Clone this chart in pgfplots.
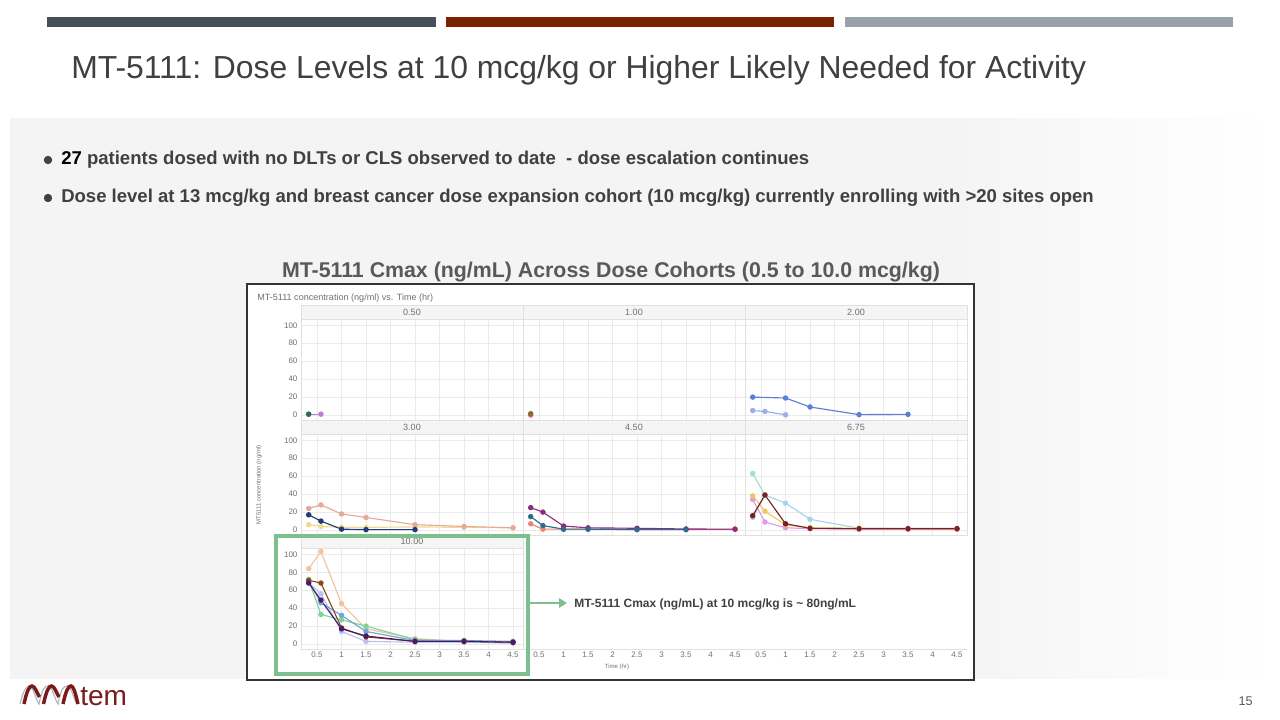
\documentclass[border=0pt]{standalone}
\usepackage{fontspec}
\setmainfont{Liberation Sans}
\usepackage{pgfplots}
\pgfplotsset{compat=1.18}
\usetikzlibrary{arrows.meta}

\definecolor{bgc}{HTML}{F4F4F4}
\definecolor{barA}{HTML}{455058}
\definecolor{barB}{HTML}{7A2300}
\definecolor{barC}{HTML}{9AA0A8}
\definecolor{titc}{HTML}{404040}
\definecolor{subc}{HTML}{595959}
\definecolor{gridc}{HTML}{EBEBEB}
\definecolor{framec}{HTML}{E0E0E0}
\definecolor{stripc}{HTML}{F5F5F5}
\definecolor{tickc}{HTML}{707070}
\definecolor{boxc}{HTML}{7DC08E}
\definecolor{logoc}{HTML}{7B1A1A}
% series
\definecolor{cPeach}{HTML}{F2C39E}
\definecolor{cBrown}{HTML}{8B4A1C}
\definecolor{cGreen}{HTML}{7ED39B}
\definecolor{cBlue}{HTML}{6BA6D6}
\definecolor{cDPurp}{HTML}{4A1A6A}
\definecolor{cLav}{HTML}{B9C3F0}
\definecolor{cPurp}{HTML}{B77FD6}
\definecolor{cDGreen}{HTML}{2E6B4F}
\definecolor{cPink}{HTML}{E070A0}
\definecolor{cOlive}{HTML}{8B6B2F}
\definecolor{cRoyal}{HTML}{5B7FD6}
\definecolor{cLBlue}{HTML}{9AAEE8}
\definecolor{cSalmon}{HTML}{E8A898}
\definecolor{cYellow}{HTML}{F2DA8C}
\definecolor{cNavy}{HTML}{1F3B73}
\definecolor{cMag}{HTML}{8E2C7E}
\definecolor{cTeal}{HTML}{2E6B8F}
\definecolor{cCoral}{HTML}{E88870}
\definecolor{cRose}{HTML}{D9507A}
\definecolor{cMint}{HTML}{9FE3C2}
\definecolor{cSky}{HTML}{A6D4EC}
\definecolor{cGold}{HTML}{EBC95E}
\definecolor{cViolet}{HTML}{E39AE3}
\definecolor{cMaroon}{HTML}{7A2020}

\pgfplotsset{
  panel/.style={
    scale only axis, anchor=north west,
    width=166.5pt, height=75.75pt,
    xmin=0.173, xmax=4.704, ymin=-5.5, ymax=107,
    xtick={0.5,1,1.5,2,2.5,3,3.5,4,4.5},
    ytick={0,20,40,60,80,100},
    grid=major, major grid style={draw=gridc, line width=0.5pt},
    axis line style={draw=framec, line width=0.5pt},
    major tick length=0pt,
    xticklabels={}, yticklabels={},
    tick label style={font=\fontsize{6}{7}\selectfont, text=tickc},
    /pgf/number format/assume math mode=true,
    every axis plot/.append style={line width=0.85pt, mark=*, mark size=1.6pt},
  },
  ylab/.style={yticklabels={0,20,40,60,80,100}, yticklabel style={inner sep=1pt, xshift=-1.5pt}},
  xlab/.style={xticklabels={0.5,1,1.5,2,2.5,3,3.5,4,4.5}, xticklabel style={inner sep=1pt, yshift=-1pt}},
}

\begin{document}
\begin{tikzpicture}
\begin{scope}[x=0.75pt,y=-0.75pt]
  \path[use as bounding box] (0,0) rectangle (1280,720);
  \fill[white] (0,0) rectangle (1280,720);
  \fill[bgc] (10,118) rectangle (950,679);
  % fade of the grey panel towards the right edge
  \foreach \i in {0,...,31}{
    \pgfmathsetmacro{\pc}{100-\i*3.2}
    \fill[bgc!\pc!white] ({949+\i*10},118) rectangle ({960+\i*10},679);
  }
  % top bars
  \fill[barA] (47,17) rectangle (436,27);
  \fill[barB] (446,17) rectangle (834,27);
  \fill[barC] (845,17) rectangle (1233,27);
  % title
  \node[anchor=base west, inner sep=0pt, text=titc, font=\fontsize{23.9}{28}\selectfont] at (71,79) {MT-5111: Dose Levels at 10 mcg/kg or Higher Likely Needed for Activity};
  % bullets
  \fill[titc] (48,160) circle (4.2);
  \fill[titc] (48,198) circle (4.2);
  \node[anchor=base west, inner sep=0pt, text=titc, font=\bfseries\fontsize{13.9}{16}\selectfont] at (61,165) {\textcolor{black}{27} patients dosed with no DLTs or CLS observed to date\ \ - dose escalation continues};
  \node[anchor=base west, inner sep=0pt, text=titc, font=\bfseries\fontsize{13.9}{16}\selectfont] at (61,203) {Dose level at 13 mcg/kg and breast cancer dose expansion cohort (10 mcg/kg) currently enrolling with >20 sites open};
  % chart title
  \node[anchor=base, inner sep=0pt, text=subc, font=\bfseries\fontsize{16}{19}\selectfont] at (611,277) {MT-5111 Cmax (ng/mL) Across Dose Cohorts (0.5 to 10.0 mcg/kg)};
  % chart frame
  \draw[fill=white, draw=black!80, line width=1pt] (247,284) rectangle (974,680);
  \node[anchor=base west, inner sep=0pt, text=tickc, font=\fontsize{6.8}{8}\selectfont] at (257,300) {MT-5111 concentration (ng/ml) vs. Time (hr)};
  % strips
  \foreach \cx/\ry/\lab in {301/305/0.50, 523/305/1.00, 745/305/2.00, 301/420/3.00, 523/420/4.50, 745/420/6.75, 301/534/10.00}{
    \draw[fill=stripc, draw=framec, line width=0.4pt] (\cx,\ry) rectangle ++(222,14);
    \node[text=tickc, font=\fontsize{6.8}{8}\selectfont, inner sep=0pt] at (\cx+111,\ry+7.5) {\lab};
  }
  \node[rotate=90, text=tickc, font=\fontsize{4.5}{5}\selectfont, inner sep=0pt] at (259,485) {MT5111 concentration (ng/ml)};
  \node[text=tickc, font=\fontsize{4.5}{5}\selectfont, inner sep=0pt] at (617,667) {Time (hr)};
\end{scope}

% ---- row 1 ----
\begin{axis}[panel, ylab, at={(225.75pt,-239.25pt)}]
  \addplot[color=cPurp] coordinates {(0.33,1) (0.58,1)};
  \addplot[color=cDGreen] coordinates {(0.33,1)};
\end{axis}
\begin{axis}[panel, at={(392.25pt,-239.25pt)}]
  \addplot[color=cPink] coordinates {(0.33,0)};
  \addplot[color=cOlive] coordinates {(0.33,1.5)};
\end{axis}
\begin{axis}[panel, at={(558.75pt,-239.25pt)}]
  \addplot[color=cLBlue] coordinates {(0.33,5) (0.58,4) (1,0.3)};
  \addplot[color=cRoyal] coordinates {(0.33,20) (1,19) (1.5,9) (2.5,0.5) (3.5,0.8)};
\end{axis}

% ---- row 2 ----
\begin{axis}[panel, ylab, at={(225.75pt,-325.5pt)}]
  \addplot[color=cYellow] coordinates {(0.33,6) (0.58,4) (1,3) (1.5,3) (2.5,3.5) (3.5,3) (4.5,2.5)};
  \addplot[color=cSalmon] coordinates {(0.33,24) (0.58,28) (1,18) (1.5,14) (2.5,6) (3.5,4) (4.5,2.5)};
  \addplot[color=cNavy] coordinates {(0.33,17) (0.58,10) (1,1) (1.5,0.5) (2.5,0.5)};
\end{axis}
\begin{axis}[panel, at={(392.25pt,-325.5pt)}]
  \addplot[color=cCoral] coordinates {(0.33,7) (0.58,1) (1,1) (1.5,1) (2.5,1)};
  \addplot[color=cRose] coordinates {(2.5,1) (3.5,1) (4.5,1)};
  \addplot[color=cMag] coordinates {(0.33,25) (0.58,20) (1,4.5) (1.5,2.5) (2.5,2) (3.5,1.2) (4.5,1)};
  \addplot[color=cTeal] coordinates {(0.33,15) (0.58,5) (1,1) (1.5,1) (2.5,0.5) (3.5,0.5)};
\end{axis}
\begin{axis}[panel, at={(558.75pt,-325.5pt)}]
  \addplot[color=cMint] coordinates {(0.33,63) (0.58,39)};
  \addplot[color=cSky] coordinates {(0.33,14) (0.58,39) (1,30) (1.5,12) (2.5,2) (3.5,2) (4.5,2)};
  \addplot[color=cViolet] coordinates {(0.33,34) (0.58,9) (1,2.6) (1.5,1.5) (2.5,1) (3.5,1) (4.5,1)};
  \addplot[color=cGold] coordinates {(0.33,38) (0.58,21) (1,6) (1.5,2.5) (2.5,2) (3.5,1.5) (4.5,1.5)};
  \addplot[color=cMaroon] coordinates {(0.33,16) (0.58,39) (1,7) (1.5,2) (2.5,1.5) (3.5,1.5) (4.5,1.5)};
\end{axis}

% ---- row 3 ----
\begin{axis}[panel, ylab, xlab, at={(225.75pt,-411pt)}]
  \addplot[color=cPeach] coordinates {(0.33,84) (0.58,103) (1,45) (1.5,17) (2.5,6) (3.5,3) (4.5,2)};
  \addplot[color=cGreen] coordinates {(0.33,72) (0.58,33) (1,27) (1.5,20) (2.5,5) (3.5,3) (4.5,2)};
  \addplot[color=cLav] coordinates {(0.33,68) (0.58,56) (1,14) (1.5,3) (2.5,2) (3.5,2) (4.5,1)};
  \addplot[color=cBlue] coordinates {(0.33,70) (0.58,46) (1,32) (1.5,14) (2.5,4) (3.5,4) (4.5,3)};
  \addplot[color=cBrown] coordinates {(0.33,71) (0.58,68) (1,18) (1.5,8) (2.5,3) (3.5,3) (4.5,2)};
  \addplot[color=cDPurp] coordinates {(0.33,68) (0.58,49) (1,17) (1.5,9) (2.5,3) (3.5,3) (4.5,2)};
\end{axis}
\begin{axis}[panel, xlab, at={(392.25pt,-411pt)}, grid=none, axis y line=none, axis x line*=bottom]
\end{axis}
\begin{axis}[panel, xlab, at={(558.75pt,-411pt)}, grid=none, axis y line=none, axis x line*=bottom]
\end{axis}

\begin{scope}[x=0.75pt,y=-0.75pt]
  \draw[boxc, line width=2.4pt] (276,536) rectangle (528,674);
  \draw[boxc, line width=1.6pt, -{Triangle[length=6pt,width=7pt]}] (528,603) -- (567,603);
  \node[anchor=base west, inner sep=0pt, text=titc, font=\bfseries\fontsize{9}{11}\selectfont] at (574,607) {MT-5111 Cmax (ng/mL) at 10 mcg/kg is \textasciitilde{} 80ng/mL};
  % page number
  \node[anchor=base east, inner sep=0pt, text=subc, font=\fontsize{9.5}{11}\selectfont] at (1253,705) {15};
  % logo
  \draw[gray!55, line width=0.9pt] (20,704) .. controls (24,688) and (27,686) .. (29.5,686) .. controls (33,686) and (36,700) .. (39,704)
     .. controls (42,688) and (45,686) .. (48.5,686) .. controls (52,686) and (55,700) .. (58,704)
     .. controls (61,688) and (64,686) .. (67.5,686) .. controls (71,686) and (74,700) .. (77,704);
  \draw[logoc, line width=2.6pt] (24,704) .. controls (27,690) and (29.5,686) .. (32,686) .. controls (35,686) and (37.5,694) .. (39.5,697)
     (43.5,704) .. controls (46.5,690) and (49,686) .. (51.5,686) .. controls (54.5,686) and (57,694) .. (59,697)
     (63,704) .. controls (66,690) and (68.5,686) .. (71,686) .. controls (74,686) and (76.5,698) .. (78,704);
  \node[anchor=base west, inner sep=0pt, text=logoc, font=\fontsize{21}{24}\selectfont] at (80,705) {tem};
\end{scope}
\end{tikzpicture}
\end{document}
